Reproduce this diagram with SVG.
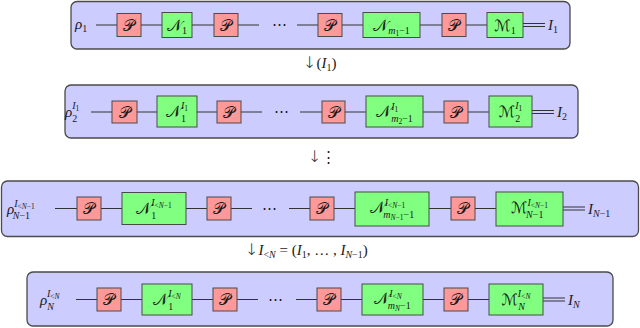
<svg xmlns="http://www.w3.org/2000/svg" width="640" height="328" viewBox="0 0 640 328">
<style>
.frame{fill:#ccccff;stroke:#4a4a4a;stroke-width:1.3}
.p{fill:#ff9999;stroke:#4a4a4a;stroke-width:1}
.n{fill:#80ff80;stroke:#4a4a4a;stroke-width:1}
.w{stroke:#333;stroke-width:1;fill:none}
text{font-family:"Liberation Serif","DejaVu Serif",serif;font-style:italic;font-size:15px;fill:#1a1a1a}
.cal{font-family:"DejaVu Sans","Noto Sans",serif;font-style:normal;font-size:15.5px}
.ar{font-family:"DejaVu Sans",sans-serif;font-weight:200;font-style:normal;font-size:16px;fill:#1a1a1a}
.up{font-style:normal}
.s{font-size:10px}
.ss{font-size:7.5px}
.c{text-anchor:middle}
</style>
<rect class="frame" x="71" y="1.5" width="499" height="47.5" rx="6"/>
<rect class="frame" x="65" y="85" width="513" height="53" rx="6"/>
<rect class="frame" x="1.5" y="181" width="637" height="55.5" rx="6"/>
<rect class="frame" x="27" y="272" width="586" height="54" rx="6"/>
<g id="connectors">
<path class="w" d="M96 25H117M141 25H162M192 25H214M238 25H259M297 25H318M342 25H363M420 25H442M466 25H487M523 23.5H545M523 26.5H545"/>
<path class="w" d="M91 112H112M137 112H157M197 112H217M241 112H262M300 112H322M345 112H366M423 112H444M468 112H489M532 110.5H554M532 113.5H554"/>
<path class="w" d="M55 208.5H77M101 208.5H122M186 208.5H207M231 208.5H252M289 208.5H310M334 208.5H355M429 208.5H451M475 208.5H496M563 207H585M563 210H585"/>
<path class="w" d="M76 299.5H97M121 299.5H142M192 299.5H213M237 299.5H258M296 299.5H317M341 299.5H362M423 299.5H444M468 299.5H489M543 298H565M543 301H565"/>
</g>
<g id="row1">
<text x="75" y="29">ρ<tspan class="s up" dy="3">1</tspan></text>
<g id="r1p1"><rect class="p" x="117" y="13.5" width="24" height="23"/><text class="cal c" x="129" y="30.5">𝒫</text></g>
<g id="r1n1"><rect class="n" x="162" y="12.5" width="30" height="25"/><text class="c" x="177" y="30.5"><tspan class="cal">𝒩</tspan><tspan class="s up" dy="3">1</tspan></text></g>
<g id="r1p2"><rect class="p" x="214" y="13.5" width="24" height="23"/><text class="cal c" x="226" y="30.5">𝒫</text></g>
<text class="up" x="272" y="29" letter-spacing="1">⋯</text>
<g id="r1p3"><rect class="p" x="318" y="13.5" width="24" height="23"/><text class="cal c" x="330" y="30.5">𝒫</text></g>
<g id="r1n2"><rect class="n" x="363" y="12.5" width="57" height="25"/><text class="c" x="391.5" y="30.5"><tspan class="cal">𝒩</tspan><tspan class="s" dy="3">m</tspan><tspan class="ss up" dy="2">1</tspan><tspan class="s up" dy="-2">−1</tspan></text></g>
<g id="r1p4"><rect class="p" x="442" y="13.5" width="24" height="23"/><text class="cal c" x="454" y="30.5">𝒫</text></g>
<g id="r1m"><rect class="n" x="487" y="12.5" width="36" height="25"/><text class="c" x="505" y="30.5"><tspan class="cal">ℳ</tspan><tspan class="s up" dy="3">1</tspan></text></g>
<text x="548" y="30">I<tspan class="s up" dy="3">1</tspan></text>
</g>
<text id="lab1" x="303" y="68"><tspan class="ar">↓</tspan><tspan class="up">(</tspan>I<tspan class="s up" dy="3">1</tspan><tspan class="up" dy="-3">)</tspan></text>
<g id="row2">
<text x="65" y="117">ρ<tspan class="s up" dy="5">2</tspan><tspan class="s" dx="-5" dy="-13">I</tspan><tspan class="ss up" dy="2">1</tspan></text>
<g id="r2p1"><rect class="p" x="112" y="101" width="25" height="22"/><text class="cal c" x="124.5" y="117.5">𝒫</text></g>
<g id="r2n1"><rect class="n" x="157" y="96" width="40" height="31"/><text class="c" x="177" y="117"><tspan class="cal">𝒩</tspan><tspan class="s up" dy="5">1</tspan><tspan class="s" dx="-5" dy="-13">I</tspan><tspan class="ss up" dy="2">1</tspan></text></g>
<g id="r2p2"><rect class="p" x="217" y="101" width="24" height="22"/><text class="cal c" x="229" y="117.5">𝒫</text></g>
<text class="up" x="274" y="116" letter-spacing="1">⋯</text>
<g id="r2p3"><rect class="p" x="322" y="101" width="23" height="22"/><text class="cal c" x="333.5" y="117.5">𝒫</text></g>
<g id="r2n2"><rect class="n" x="366" y="96" width="57" height="31"/><text class="c" x="394.5" y="117"><tspan class="cal">𝒩</tspan><tspan class="s" dy="-7">I</tspan><tspan class="ss up" dy="2">1</tspan><tspan class="s" dx="-7" dy="10">m</tspan><tspan class="ss up" dy="2">2</tspan><tspan class="s up" dy="-2">−1</tspan></text></g>
<g id="r2p4"><rect class="p" x="444" y="101" width="24" height="22"/><text class="cal c" x="456" y="117.5">𝒫</text></g>
<g id="r2m"><rect class="n" x="489" y="96" width="43" height="31"/><text class="c" x="510.5" y="117"><tspan class="cal">ℳ</tspan><tspan class="s up" dy="5">2</tspan><tspan class="s" dx="-5" dy="-13">I</tspan><tspan class="ss up" dy="2">1</tspan></text></g>
<text x="557" y="117">I<tspan class="s up" dy="3">2</tspan></text>
</g>
<text id="lab2" x="308" y="162"><tspan class="ar">↓</tspan><tspan class="up">⋮</tspan></text>
<g id="row3">
<text x="7" y="214">ρ<tspan class="s" dy="-7">I</tspan><tspan class="ss up" dy="2">&lt;</tspan><tspan class="ss">N</tspan><tspan class="ss up">−1</tspan><tspan class="s" dx="-22" dy="10">N</tspan><tspan class="s up">−1</tspan></text>
<g id="r3p1"><rect class="p" x="77" y="197" width="24" height="23"/><text class="cal c" x="89" y="214">𝒫</text></g>
<g id="r3n1"><rect class="n" x="122" y="192.5" width="64" height="32"/><text class="c" x="154" y="214"><tspan class="cal">𝒩</tspan><tspan class="s up" dy="5">1</tspan><tspan class="s" dx="-5" dy="-13">I</tspan><tspan class="ss up" dy="2">&lt;</tspan><tspan class="ss">N</tspan><tspan class="ss up">−1</tspan></text></g>
<g id="r3p2"><rect class="p" x="207" y="197" width="24" height="23"/><text class="cal c" x="219" y="214">𝒫</text></g>
<text class="up" x="262" y="212.5" letter-spacing="1">⋯</text>
<g id="r3p3"><rect class="p" x="310" y="197" width="24" height="23"/><text class="cal c" x="322" y="214">𝒫</text></g>
<g id="r3n2"><rect class="n" x="355" y="192" width="74" height="34"/><text class="c" x="392" y="213"><tspan class="cal">𝒩</tspan><tspan class="s" dy="-7">I</tspan><tspan class="ss up" dy="2">&lt;</tspan><tspan class="ss">N</tspan><tspan class="ss up">−1</tspan><tspan class="s" dx="-22" dy="10">m</tspan><tspan class="ss" dy="2">N</tspan><tspan class="ss up">−1</tspan><tspan class="s up" dy="-2">−1</tspan></text></g>
<g id="r3p4"><rect class="p" x="451" y="197" width="24" height="23"/><text class="cal c" x="463" y="214">𝒫</text></g>
<g id="r3m"><rect class="n" x="496" y="192" width="67" height="34"/><text class="c" x="529.5" y="213"><tspan class="cal">ℳ</tspan><tspan class="s" dy="-7">I</tspan><tspan class="ss up" dy="2">&lt;</tspan><tspan class="ss">N</tspan><tspan class="ss up">−1</tspan><tspan class="s" dx="-22" dy="10">N</tspan><tspan class="s up">−1</tspan></text></g>
<text x="588" y="214">I<tspan class="s" dy="3">N</tspan><tspan class="s up">−1</tspan></text>
</g>
<text id="lab3" x="245" y="255"><tspan class="ar">↓</tspan>I<tspan class="s up" dy="3">&lt;</tspan><tspan class="s">N</tspan><tspan class="up" dy="-3"> = (</tspan>I<tspan class="s up" dy="3">1</tspan><tspan class="up" dy="-3">, … , </tspan>I<tspan class="s" dy="3">N</tspan><tspan class="s up">−1</tspan><tspan class="up" dy="-3">)</tspan></text>
<g id="row4">
<text x="40" y="305">ρ<tspan class="s" dy="5">N</tspan><tspan class="s" dx="-7" dy="-13">I</tspan><tspan class="ss up" dy="2">&lt;</tspan><tspan class="ss">N</tspan></text>
<g id="r4p1"><rect class="p" x="97" y="288" width="24" height="23"/><text class="cal c" x="109" y="305">𝒫</text></g>
<g id="r4n1"><rect class="n" x="142" y="284" width="50" height="31"/><text class="c" x="167" y="305"><tspan class="cal">𝒩</tspan><tspan class="s up" dy="5">1</tspan><tspan class="s" dx="-5" dy="-13">I</tspan><tspan class="ss up" dy="2">&lt;</tspan><tspan class="ss">N</tspan></text></g>
<g id="r4p2"><rect class="p" x="213" y="288" width="24" height="23"/><text class="cal c" x="225" y="305">𝒫</text></g>
<text class="up" x="268" y="303.5" letter-spacing="1">⋯</text>
<g id="r4p3"><rect class="p" x="317" y="288" width="24" height="23"/><text class="cal c" x="329" y="305">𝒫</text></g>
<g id="r4n2"><rect class="n" x="362" y="284" width="61" height="31"/><text class="c" x="392.5" y="304"><tspan class="cal">𝒩</tspan><tspan class="s" dy="-7">I</tspan><tspan class="ss up" dy="2">&lt;</tspan><tspan class="ss">N</tspan><tspan class="s" dx="-14" dy="10">m</tspan><tspan class="ss" dy="2">N</tspan><tspan class="s up" dy="-2">−1</tspan></text></g>
<g id="r4p4"><rect class="p" x="444" y="288" width="24" height="23"/><text class="cal c" x="456" y="305">𝒫</text></g>
<g id="r4m"><rect class="n" x="489" y="284" width="54" height="31"/><text class="c" x="516" y="305"><tspan class="cal">ℳ</tspan><tspan class="s" dy="5">N</tspan><tspan class="s" dx="-7" dy="-13">I</tspan><tspan class="ss up" dy="2">&lt;</tspan><tspan class="ss">N</tspan></text></g>
<text x="568" y="305">I<tspan class="s" dy="3">N</tspan></text>
</g>
</svg>
